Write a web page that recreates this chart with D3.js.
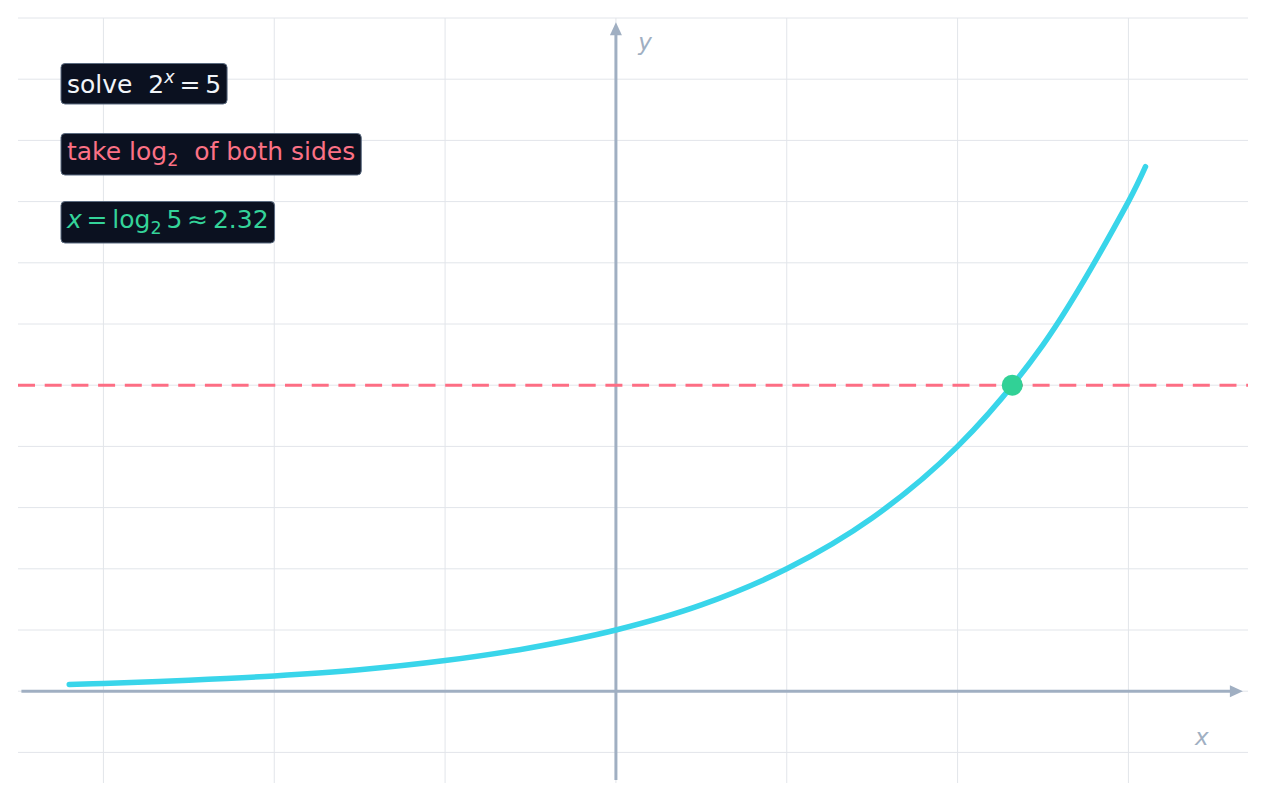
<!DOCTYPE html>
<html>
<head>
<meta charset="utf-8">
<script src="https://cdn.jsdelivr.net/npm/d3@7"></script>
<style>
  body { margin: 0; background: #fff; }
  text { font-family: "DejaVu Sans", sans-serif; }
</style>
</head>
<body>
<div id="chart"></div>
<script>
var w = 1266,
    h = 801,
    m = [18, 18, 18, 18]; // top right bottom left

// curve y = 2^x
var curveX = [-3.2, -3, -2.5, -2, -1.5, -1, -0.5, 0, 0.5, 1, 1.5, 2, 2.5, 3, 3.1];
var curveY = [0.11, 0.125, 0.18, 0.25, 0.35, 0.5, 0.71, 1, 1.41, 2, 2.83, 4, 5.66, 8, 8.57];

var targetY = 5;           // dashed line y = 5
var solution = [2.32, 5];  // log2 5
var xTicks = [-3, -2, -1, 0, 1, 2, 3];
var yTicks = [-1, 0, 1, 2, 3, 4, 5, 6, 7, 8, 9, 10, 11];

var x = d3.scaleLinear().domain([-3.5, 3.7]).range([m[3], w - m[1]]);
var y = d3.scaleLinear().domain([-1.5, 11]).range([783, m[0]]);

var svg = d3.select("#chart").append("svg")
    .attr("width", w)
    .attr("height", h);

// grid
svg.append("g").selectAll("line")
    .data(yTicks)
  .enter().append("line")
    .attr("x1", x.range()[0]).attr("x2", x.range()[1])
    .attr("y1", function(d) { return y(d); })
    .attr("y2", function(d) { return y(d); })
    .attr("stroke", "#e2e5ea").attr("stroke-width", 1);

svg.append("g").selectAll("line")
    .data(xTicks)
  .enter().append("line")
    .attr("y1", y.range()[0]).attr("y2", y.range()[1])
    .attr("x1", function(d) { return x(d); })
    .attr("x2", function(d) { return x(d); })
    .attr("stroke", "#e2e5ea").attr("stroke-width", 1);

// axes with arrows
var axisColor = "#a0afc2";
var x0 = x(0), y0 = y(0);
var xTip = x(3.67), yTip = y(10.93);

svg.append("line")
    .attr("x1", x(-3.48)).attr("x2", xTip - 10)
    .attr("y1", y0).attr("y2", y0)
    .attr("stroke", axisColor).attr("stroke-width", 3);
svg.append("path")
    .attr("d", "M" + xTip + "," + y0 + "L" + (xTip - 13) + "," + (y0 - 6) + "L" + (xTip - 13) + "," + (y0 + 6) + "Z")
    .attr("fill", axisColor);

svg.append("line")
    .attr("x1", x0).attr("x2", x0)
    .attr("y1", y(-1.45)).attr("y2", yTip + 10)
    .attr("stroke", axisColor).attr("stroke-width", 3);
svg.append("path")
    .attr("d", "M" + x0 + "," + yTip + "L" + (x0 - 6) + "," + (yTip + 13) + "L" + (x0 + 6) + "," + (yTip + 13) + "Z")
    .attr("fill", axisColor);

svg.append("text")
    .attr("x", x(3.43)).attr("y", y(-0.88))
    .attr("text-anchor", "middle")
    .attr("font-size", 23).attr("font-style", "italic")
    .attr("fill", axisColor)
    .text("x");
svg.append("text")
    .attr("x", x(0.17)).attr("y", y(10.48))
    .attr("text-anchor", "middle")
    .attr("font-size", 23).attr("font-style", "italic")
    .attr("fill", axisColor)
    .text("y");

// dashed y = 5
svg.append("line")
    .attr("x1", x.range()[0]).attr("x2", x.range()[1])
    .attr("y1", y(targetY)).attr("y2", y(targetY))
    .attr("stroke", "#fd6e84").attr("stroke-width", 3)
    .attr("stroke-dasharray", "17,9.7");

// the curve
var line = d3.line()
    .x(function(d) { return x(d[0]); })
    .y(function(d) { return y(d[1]); })
    .curve(d3.curveCatmullRom.alpha(0.5));

svg.append("path")
    .datum(d3.zip(curveX, curveY))
    .attr("d", line)
    .attr("fill", "none")
    .attr("stroke", "#39d5ea")
    .attr("stroke-width", 5.5)
    .attr("stroke-linecap", "round");

svg.append("circle")
    .attr("cx", x(solution[0])).attr("cy", y(solution[1]))
    .attr("r", 10.5)
    .attr("fill", "#31d196");

// annotation boxes
var op = 4.8; // math spacing around operators
var notes = [
  { color: "#f1f5f9", baseline: 93, parts: [
      { t: "solve  2" }, { t: "x", it: true, sup: true }, { t: "=", dx: op }, { t: "5", dx: op } ] },
  { color: "#fb7185", baseline: 160, parts: [
      { t: "take log" }, { t: "2", sub: true }, { t: "  of both sides" } ] },
  { color: "#34d399", baseline: 228, parts: [
      { t: "x", it: true }, { t: "=", dx: op }, { t: "log", dx: op }, { t: "2", sub: true },
      { t: "5", dx: op }, { t: "≈", dx: op }, { t: "2.32", dx: op } ] }
];

notes.forEach(function(n) {
  var g = svg.append("g");
  var rect = g.append("rect");
  var txt = g.append("text")
      .attr("x", 67).attr("y", n.baseline)
      .attr("font-size", 25)
      .attr("fill", n.color)
      .style("white-space", "pre");
  n.parts.forEach(function(p, i) {
    var ts = txt.append("tspan").text(p.t);
    var prev = n.parts[i - 1];
    var dy = 0;
    if (p.dx) ts.attr("dx", p.dx);
    if (p.it) ts.attr("font-style", "italic");
    if (p.sup) { dy -= 10; ts.attr("font-size", 17.5); }
    if (p.sub) { dy += 6; ts.attr("font-size", 17.5); }
    if (prev && prev.sup) dy += 10;
    if (prev && prev.sub) dy -= 6;
    if (dy) ts.attr("dy", dy);
  });
  var b = txt.node().getBBox();
  rect.attr("x", 61).attr("y", b.y - 3.5)
      .attr("width", b.x + b.width - 61 + 6)
      .attr("height", b.height + 8.5)
      .attr("rx", 4)
      .attr("fill", "#0b1120")
      .attr("stroke", "#5b6b80").attr("stroke-width", 1);
});
</script>
</body>
</html>
